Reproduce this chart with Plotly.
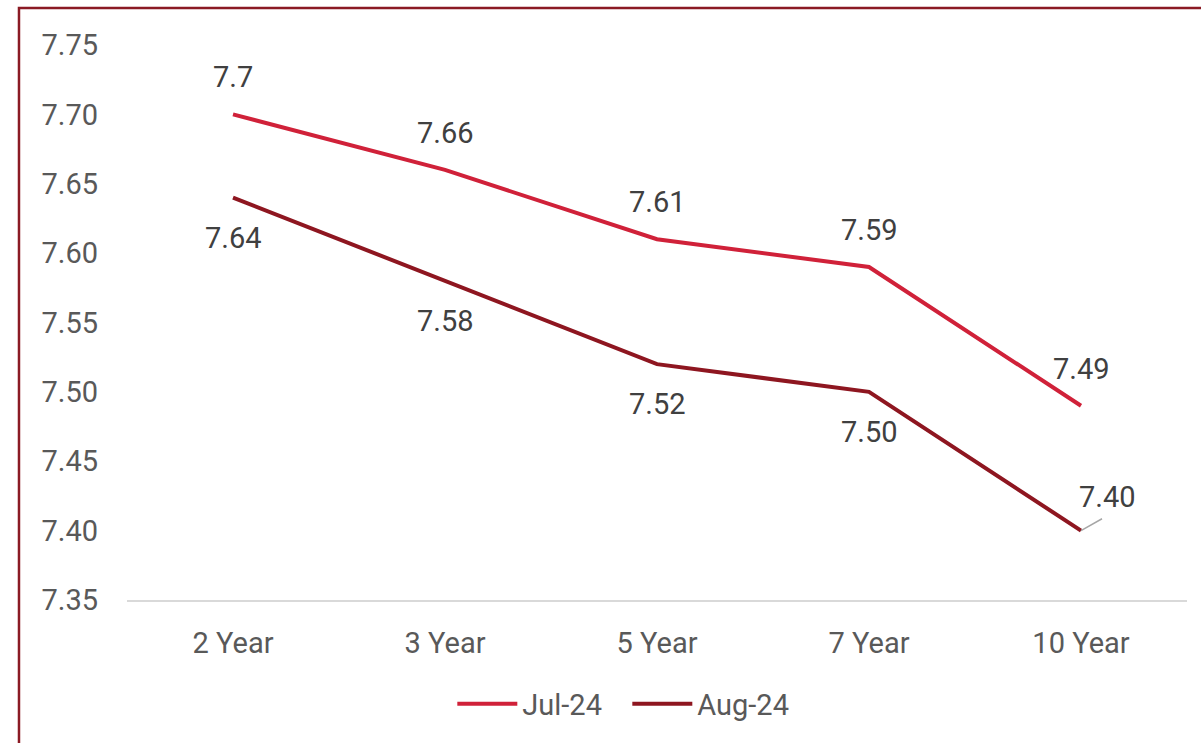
import plotly.graph_objects as go

tenors = ["2 Year", "3 Year", "5 Year", "7 Year", "10 Year"]
jul_24 = [7.70, 7.66, 7.61, 7.59, 7.49]
aug_24 = [7.64, 7.58, 7.52, 7.50, 7.40]
jul_labels = ["7.7", "7.66", "7.61", "7.59", "7.49"]
aug_labels = ["7.64", "7.58", "7.52", "7.50", "7.40"]
y_ticks = [7.35, 7.40, 7.45, 7.50, 7.55, 7.60, 7.65, 7.70, 7.75]

JUL_COLOR = "#D02139"
AUG_COLOR = "#8E1620"
TEXT_COLOR = "#595959"
LABEL_COLOR = "#404040"
FONT = "Roboto"
SIZE = 29

fig = go.Figure()
fig.add_trace(go.Scatter(x=tenors, y=jul_24, name="Jul-24", mode="lines",
                         line=dict(color=JUL_COLOR, width=4)))
fig.add_trace(go.Scatter(x=tenors, y=aug_24, name="Aug-24", mode="lines",
                         line=dict(color=AUG_COLOR, width=4)))

label_font = dict(size=SIZE, color=LABEL_COLOR, family=FONT)
annotations = []
for x, y, t in zip(tenors, jul_24, jul_labels):
    annotations.append(dict(x=x, y=y, text=t, showarrow=False, yshift=37,
                            font=label_font))
for i, (x, y, t) in enumerate(zip(tenors, aug_24, aug_labels)):
    if i == len(tenors) - 1:
        # last label sits up and to the right, joined to its point by a leader line
        annotations.append(dict(x=x, y=y, text=t, showarrow=False,
                                xshift=26, yshift=34, font=label_font))
        annotations.append(dict(x=x, y=y, text=" ", showarrow=True, ax=23, ay=-13,
                                arrowhead=0, arrowwidth=1.5, arrowcolor="#A6A6A6",
                                standoff=0, startstandoff=0,
                                font=dict(size=2, color=LABEL_COLOR)))
    else:
        annotations.append(dict(x=x, y=y, text=t, showarrow=False, yshift=-40,
                                font=label_font))

fig.update_layout(
    width=1201, height=743,
    margin=dict(l=127, r=14, t=45, b=143),
    paper_bgcolor="white", plot_bgcolor="white",
    font=dict(family=FONT, size=SIZE, color=TEXT_COLOR),
    showlegend=True,
    legend=dict(orientation="h", x=0.472, xanchor="center", y=-0.187, yanchor="middle",
                font=dict(size=SIZE, color=TEXT_COLOR, family=FONT),
                itemwidth=60, entrywidth=100, traceorder="normal"),
    xaxis=dict(type="category", range=[-0.5, 4.5], showgrid=False, showline=True,
               linecolor="#D9D9D9", linewidth=2, ticks="", ticklabelstandoff=16,
               tickfont=dict(size=SIZE, color=TEXT_COLOR)),
    yaxis=dict(range=[7.35, 7.75], tickvals=y_ticks, tickformat=".2f", showgrid=False,
               zeroline=False, showline=False, ticks="", ticklabelstandoff=28,
               tickfont=dict(size=SIZE, color=TEXT_COLOR)),
    annotations=annotations,
    shapes=[dict(type="rect", xref="paper", yref="paper", x0=-0.1019, x1=1.05,
                 y0=-0.35, y1=1.0667, line=dict(color="#8B1A24", width=2.5),
                 fillcolor="rgba(0,0,0,0)", layer="above")],
)

fig.write_html("out.html")
